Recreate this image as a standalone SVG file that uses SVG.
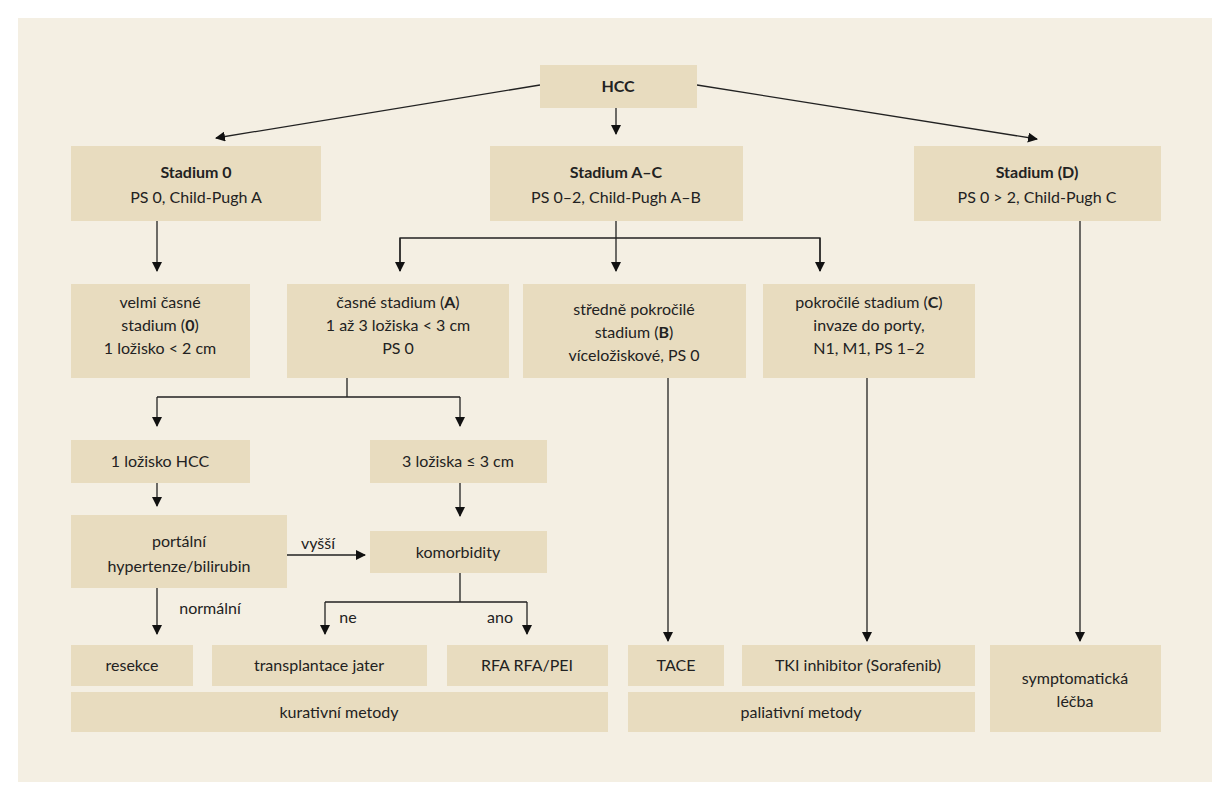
<svg xmlns="http://www.w3.org/2000/svg" width="1230" height="800" viewBox="0 0 1230 800">
<defs>
<marker id="ah" viewBox="0 0 10 10" refX="9" refY="5" markerWidth="10" markerHeight="10" markerUnits="userSpaceOnUse" orient="auto"><path d="M0,0L10,5L0,10z" fill="#111"/></marker>
<style>
.b{fill:#e8dcbf}
text{font-family:Lato,"Liberation Sans",sans-serif;font-size:16px;fill:#222;text-anchor:middle}
.bd{font-weight:bold}
.c line,.c path{stroke:#222;stroke-width:1.3;fill:none}
.a{marker-end:url(#ah)}
</style>
</defs>
<rect width="1230" height="800" fill="#fff"/>
<rect x="18" y="18" width="1194" height="764" fill="#f4efe3"/>
<g class="c">
<line class="a" x1="540" y1="85" x2="216" y2="138"/>
<line class="a" x1="616" y1="108" x2="616" y2="134"/>
<line class="a" x1="697" y1="85" x2="1037" y2="139"/>
<line class="a" x1="157" y1="221" x2="157" y2="271"/>
<path d="M616,221V238M400,271V238H820V271"/>
<line class="a" x1="400" y1="238" x2="400" y2="271"/>
<line class="a" x1="616" y1="238" x2="616" y2="271"/>
<line class="a" x1="820" y1="238" x2="820" y2="271"/>
<path d="M347,378V397M157,397H460"/>
<line class="a" x1="157" y1="397" x2="157" y2="426"/>
<line class="a" x1="460" y1="397" x2="460" y2="426"/>
<line class="a" x1="157" y1="483" x2="157" y2="506"/>
<line class="a" x1="460" y1="483" x2="460" y2="516"/>
<line class="a" x1="287" y1="555" x2="365" y2="555"/>
<line class="a" x1="157" y1="588" x2="157" y2="634"/>
<path d="M460,573V602M325,602H527"/>
<line class="a" x1="325" y1="602" x2="325" y2="634"/>
<line class="a" x1="527" y1="602" x2="527" y2="634"/>
<line class="a" x1="668" y1="378" x2="668" y2="641"/>
<line class="a" x1="867" y1="378" x2="867" y2="641"/>
<line class="a" x1="1080" y1="221" x2="1080" y2="641"/>
<text x="318" y="549">vyšší</text>
<text x="210" y="614">normální</text>
<text x="348" y="623">ne</text>
<text x="500" y="623">ano</text>
</g>
<g id="hcc"><rect class="b" x="540" y="65" width="157" height="43"/><text class="bd" x="618" y="92">HCC</text></g>
<g id="s0"><rect class="b" x="71" y="146" width="250" height="75"/><text class="bd" x="196" y="178">Stadium 0</text><text x="196" y="203">PS 0, Child-Pugh A</text></g>
<g id="sac"><rect class="b" x="490" y="146" width="253" height="75"/><text class="bd" x="616" y="178">Stadium A–C</text><text x="616" y="203">PS 0–2, Child-Pugh A–B</text></g>
<g id="sd"><rect class="b" x="914" y="146" width="247" height="75"/><text x="1037" y="178"><tspan class="bd">Stadium (D)</tspan></text><text x="1037" y="203">PS 0 &gt; 2, Child-Pugh C</text></g>
<g id="velmi"><rect class="b" x="71" y="284" width="179" height="94"/><text x="160" y="308">velmi časné</text><text x="160" y="331">stadium (<tspan class="bd">0</tspan>)</text><text x="160" y="354">1 ložisko &lt; 2 cm</text></g>
<g id="casne"><rect class="b" x="287" y="284" width="222" height="94"/><text x="398" y="308">časné stadium (<tspan class="bd">A</tspan>)</text><text x="398" y="331">1 až 3 ložiska &lt; 3 cm</text><text x="398" y="354">PS 0</text></g>
<g id="stredne"><rect class="b" x="523" y="284" width="223" height="94"/><text x="634" y="315">středně pokročilé</text><text x="634" y="338">stadium (<tspan class="bd">B</tspan>)</text><text x="634" y="361">víceložiskové, PS 0</text></g>
<g id="pokrocile"><rect class="b" x="763" y="284" width="212" height="94"/><text x="869" y="308">pokročilé stadium (<tspan class="bd">C</tspan>)</text><text x="869" y="331">invaze do porty,</text><text x="869" y="354">N1, M1, PS 1–2</text></g>
<g id="l1"><rect class="b" x="71" y="440" width="179" height="43"/><text x="160" y="467">1 ložisko HCC</text></g>
<g id="l3"><rect class="b" x="370" y="440" width="177" height="43"/><text x="458" y="467">3 ložiska ≤ 3 cm</text></g>
<g id="portal"><rect class="b" x="71" y="515" width="216" height="73"/><text x="179" y="547">portální</text><text x="179" y="572">hypertenze/bilirubin</text></g>
<g id="komorb"><rect class="b" x="370" y="531" width="177" height="42"/><text x="458" y="558">komorbidity</text></g>
<g id="resekce"><rect class="b" x="71" y="645" width="122" height="41"/><text x="132" y="671">resekce</text></g>
<g id="transpl"><rect class="b" x="212" y="645" width="215" height="41"/><text x="319" y="671">transplantace jater</text></g>
<g id="rfa"><rect class="b" x="447" y="645" width="161" height="41"/><text x="527" y="671">RFA RFA/PEI</text></g>
<g id="tace"><rect class="b" x="628" y="645" width="96" height="41"/><text x="676" y="671">TACE</text></g>
<g id="tki"><rect class="b" x="742" y="645" width="233" height="41"/><text x="858" y="671">TKI inhibitor (Sorafenib)</text></g>
<g id="symp"><rect class="b" x="990" y="645" width="171" height="87"/><text x="1075" y="684">symptomatická</text><text x="1075" y="707">léčba</text></g>
<g id="kur"><rect class="b" x="71" y="692" width="537" height="40"/><text x="339" y="718">kurativní metody</text></g>
<g id="pal"><rect class="b" x="628" y="692" width="347" height="40"/><text x="801" y="718">paliativní metody</text></g>
</svg>
